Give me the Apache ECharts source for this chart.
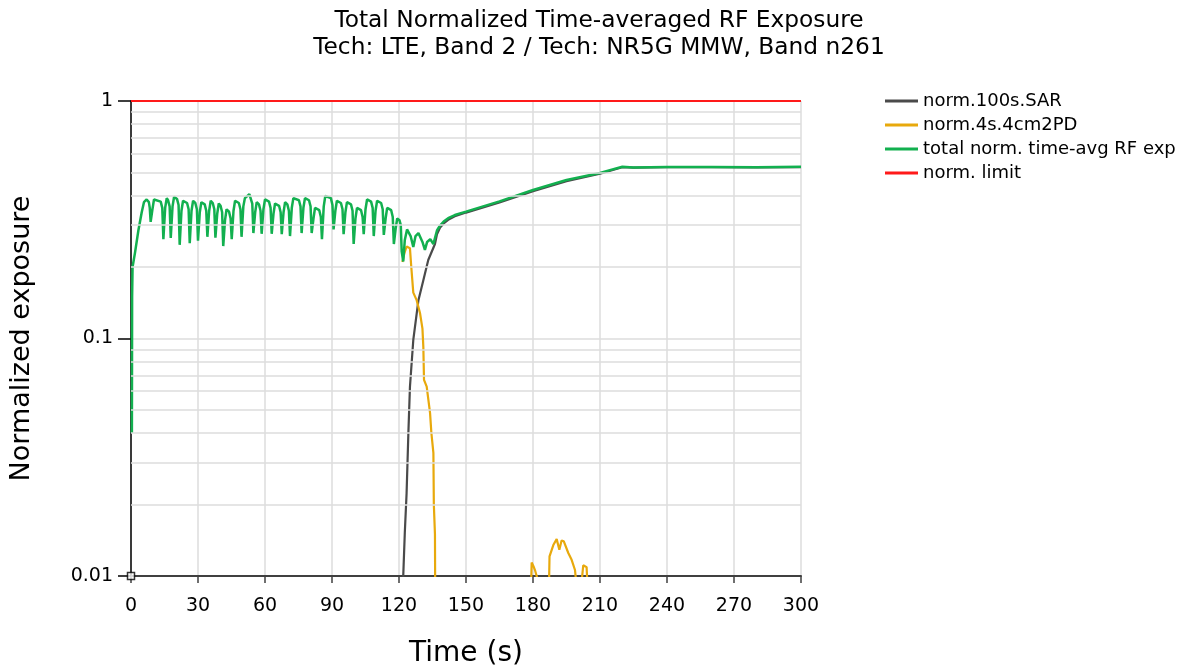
<!DOCTYPE html>
<html>
<head>
<meta charset="utf-8">
<script src="https://cdn.jsdelivr.net/npm/echarts@6/dist/echarts.min.js"></script>
<style>
html,body{margin:0;padding:0;background:#fff;}
#chart{width:1182px;height:668px;}
</style>
</head>
<body>
<div id="chart"></div>
<script>
// ---- Data (time s, normalized exposure) ----
const titleLines = ['Total Normalized Time-averaged RF Exposure', 'Tech: LTE, Band 2 / Tech: NR5G MMW, Band n261'];
const seriesNames = ['norm.100s.SAR', 'norm.4s.4cm2PD', 'total norm. time-avg RF exp', 'norm. limit'];
const xTicks = [0, 30, 60, 90, 120, 150, 180, 210, 240, 270, 300];
const yMinorGrid = [0.02,0.03,0.04,0.05,0.06,0.07,0.08,0.09,0.2,0.3,0.4,0.5,0.6,0.7,0.8,0.9];

const sarData = [
  [121.8,0.0095],[121.9,0.01],[122.6,0.0152],[123.4,0.0223],[124.2,0.04],[124.9,0.0625],[126.4,0.0986],
  [128.7,0.145],[130.9,0.176],[133.1,0.214],[136.1,0.25],[137,0.275],[138.4,0.293],[140,0.305],[142,0.316],
  [145,0.327],[150,0.339],[165,0.374],[180,0.417],[195,0.46],[210,0.494],[220,0.526],[225,0.524],
  [240,0.526],[260,0.526],[280,0.525],[300,0.527]
];

const pdData = [
  [121.5,0.21],[122.5,0.23],[123.4,0.244],[124.9,0.24],[125.5,0.2],[126.4,0.156],[127.9,0.145],
  [129.4,0.128],[130.5,0.11],[130.9,0.092],[131.2,0.067],[132.4,0.0627],[133.9,0.0486],[134.5,0.04],
  [135.4,0.033],[135.6,0.02],[136.1,0.015],[136.2,0.009],
  [136.3,null],
  [179.2,0.0095],[179.4,0.0114],[180.2,0.011],[181,0.0105],[182.3,0.0095],
  [183,null],
  [187.2,0.0095],[187.4,0.0121],[189.1,0.0135],[190.6,0.0143],[191.8,0.0129],[192.8,0.0141],
  [193.8,0.014],[195.8,0.0125],[197.3,0.0117],[198.8,0.0106],[199.3,0.0095],
  [200,null],
  [201.8,0.0095],[202.5,0.0111],[204,0.0109],[204.3,0.0095]
];

const totalData = [
  [0.4,0.04],[0.5,0.15],[0.7,0.2],[1.8,0.23],[3.3,0.285],[4.8,0.34],[5.8,0.375],[7.0,0.385],[8.0,0.375],[8.4,0.355],
  [8.8,0.31],[9.2,0.314],[9.6,0.35],[10.3,0.385],[13.3,0.377],[14.0,0.355],
  [14.5,0.262],[14.9,0.266],[15.3,0.355],[16.0,0.39],[16.6,0.382],[17.3,0.36],
  [17.8,0.265],[18.2,0.269],[18.6,0.36],[19.3,0.395],[20.6,0.387],[21.3,0.365],
  [21.8,0.248],[22.2,0.252],[22.6,0.345],[23.3,0.38],[25.1,0.372],[25.8,0.35],
  [26.3,0.252],[26.7,0.256],[27.1,0.345],[27.8,0.38],[28.8,0.372],[29.5,0.35],
  [30.0,0.258],[30.4,0.262],[30.8,0.34],[31.5,0.375],[33.0,0.367],[33.7,0.345],
  [34.2,0.268],[34.6,0.272],[35.0,0.345],[35.7,0.38],[36.6,0.372],[37.3,0.35],
  [37.8,0.266],[38.2,0.27],[38.6,0.335],[39.3,0.37],[40.1,0.362],[40.8,0.34],
  [41.3,0.245],[41.7,0.249],[42.1,0.315],[42.8,0.35],[43.9,0.342],[44.6,0.32],
  [45.1,0.262],[45.5,0.266],[45.9,0.345],[46.6,0.38],[48.3,0.372],[49.0,0.35],
  [49.5,0.268],[49.9,0.272],[50.3,0.36],[51.0,0.39],[53.0,0.405],[54.3,0.37],
  [54.8,0.278],[55.2,0.282],[55.6,0.34],[56.3,0.375],[57.3,0.367],[58.0,0.345],
  [58.5,0.276],[58.9,0.28],[59.3,0.35],[60.0,0.385],[61.8,0.377],[62.5,0.355],
  [63.0,0.276],[63.4,0.28],[63.8,0.335],[64.5,0.37],[66.3,0.362],[67.0,0.34],
  [67.5,0.275],[67.9,0.279],[68.3,0.34],[69.0,0.375],[70.0,0.367],[70.7,0.345],
  [71.2,0.27],[71.6,0.274],[72.0,0.355],[72.7,0.39],[75.2,0.382],[75.9,0.36],
  [76.4,0.278],[76.8,0.282],[77.2,0.355],[77.9,0.39],[79.7,0.382],[80.4,0.36],
  [80.9,0.278],[81.3,0.282],[81.7,0.32],[82.4,0.355],[84.3,0.347],[85.0,0.325],
  [85.5,0.262],[85.9,0.266],[86.3,0.36],[87.0,0.398],[89.5,0.39],[90.2,0.365],
  [90.7,0.288],[91.1,0.292],[91.5,0.345],[92.2,0.38],[94.0,0.372],[94.7,0.35],
  [95.2,0.275],[95.6,0.279],[96.0,0.34],[96.7,0.375],[98.5,0.367],[99.2,0.345],
  [99.7,0.25],[100.1,0.254],[100.5,0.32],[101.2,0.355],[103.0,0.347],[103.7,0.325],
  [104.2,0.275],[104.6,0.279],[105.0,0.35],[105.7,0.385],[107.5,0.377],[108.2,0.355],
  [108.7,0.27],[109.1,0.274],[109.5,0.345],[110.2,0.38],[112.0,0.372],[112.7,0.35],
  [113.2,0.273],[113.6,0.277],[114.0,0.32],[114.7,0.355],[116.5,0.347],[117.2,0.325],
  [117.7,0.25],[118.1,0.254],[118.5,0.29],[119.2,0.32],[120.2,0.315],[120.8,0.3],
  [121.2,0.233],[121.9,0.211],[122.6,0.26],[123.6,0.288],[125.2,0.27],[126.4,0.243],[127.4,0.27],
  [128.7,0.278],[130.5,0.255],[131.6,0.236],[132.6,0.255],[134,0.262],[135.4,0.25],[136.1,0.248],
  [137,0.285],[138.4,0.299],[140,0.311],[142,0.321],[145,0.331],[150,0.342],[165,0.378],[180,0.422],
  [195,0.465],[210,0.498],[220,0.529],[225,0.525],[240,0.527],[260,0.527],[280,0.526],[300,0.528]
];

const limitData = [[0,1],[300,1]];
const originMark = [[0,0.01]];

// ---- Chart ----
const FONT = 'DejaVu Sans';
const chart = echarts.init(document.getElementById('chart'), null, {renderer:'canvas'});
const lineCommon = {type:'line', showSymbol:false, symbol:'none', connectNulls:false, animation:false};
chart.setOption({
  animation:false,
  backgroundColor:'#fff',
  textStyle:{fontFamily:FONT},
  title:{
    text: titleLines.join('\n'),
    left: 594, textAlign:'center', top: 2,
    textStyle:{fontFamily:FONT, fontSize:23.3, fontWeight:'normal', color:'#000', lineHeight:27}
  },
  legend:{
    data: seriesNames,
    orient:'vertical', left: 880, top: 87,
    icon:'rect', itemWidth:33, itemHeight:3, itemGap:6,
    textStyle:{fontFamily:FONT, fontSize:18, color:'#000'},
    selectedMode:false
  },
  grid:{left:131, right:381, top:101, bottom:92, containLabel:false, outerBoundsMode:'none'},
  xAxis:{
    type:'value', min:0, max:300, interval:30,
    name:'Time (s)', nameLocation:'middle', nameGap:64,
    nameTextStyle:{fontFamily:FONT, fontSize:28, color:'#000'},
    axisLine:{onZero:false, lineStyle:{color:'#404040', width:2}},
    axisTick:{show:true, length:7, lineStyle:{color:'#404040', width:1.5}},
    axisLabel:{fontFamily:FONT, fontSize:19, color:'#000', margin:21,
      formatter:(v)=> xTicks.indexOf(v) >= 0 ? String(v) : ''},
    splitLine:{show:true, lineStyle:{color:'#dcdcdc', width:1.5}}
  },
  yAxis:{
    type:'log', logBase:10, min:0.01, max:1,
    name:'Normalized exposure', nameLocation:'middle', nameGap:96,
    nameTextStyle:{fontFamily:FONT, fontSize:27, color:'#000'},
    axisLine:{show:true, lineStyle:{color:'#000', width:1.5}},
    axisTick:{show:true, length:13, lineStyle:{color:'#000', width:1.5}},
    axisLabel:{fontFamily:FONT, fontSize:19, color:'#000', margin:18},
    splitLine:{show:true, lineStyle:{color:'#dcdcdc', width:1.5}},
    minorTick:{show:false}, minorSplitLine:{show:false}
  },
  series:[
    {name:'_grid', type:'line', data:[], z:1, silent:true,
      markLine:{silent:true, symbol:'none', label:{show:false}, animation:false,
        lineStyle:{color:'#dcdcdc', width:1.5, type:'solid'},
        data: yMinorGrid.map(v=>({yAxis:v}))}},
    Object.assign({}, lineCommon, {name:seriesNames[0], data:sarData, z:3,
      lineStyle:{color:'#4a4a4a', width:2.2}, itemStyle:{color:'#4a4a4a'}}),
    Object.assign({}, lineCommon, {name:seriesNames[1], data:pdData, z:3,
      lineStyle:{color:'#e8a90c', width:2.2}, itemStyle:{color:'#e8a90c'}}),
    Object.assign({}, lineCommon, {name:seriesNames[2], data:totalData, z:4,
      lineStyle:{color:'#12b04f', width:2.5}, itemStyle:{color:'#12b04f'}}),
    Object.assign({}, lineCommon, {name:seriesNames[3], data:limitData, z:5,
      lineStyle:{color:'#ff1a1a', width:2}, itemStyle:{color:'#ff1a1a'}}),
    {name:'_origin', type:'scatter', data:originMark, symbol:'rect', symbolSize:7, z:10, clip:false, silent:true,
      itemStyle:{color:'#fff', borderColor:'#000', borderWidth:1.5}}
  ]
});
</script>
</body>
</html>
